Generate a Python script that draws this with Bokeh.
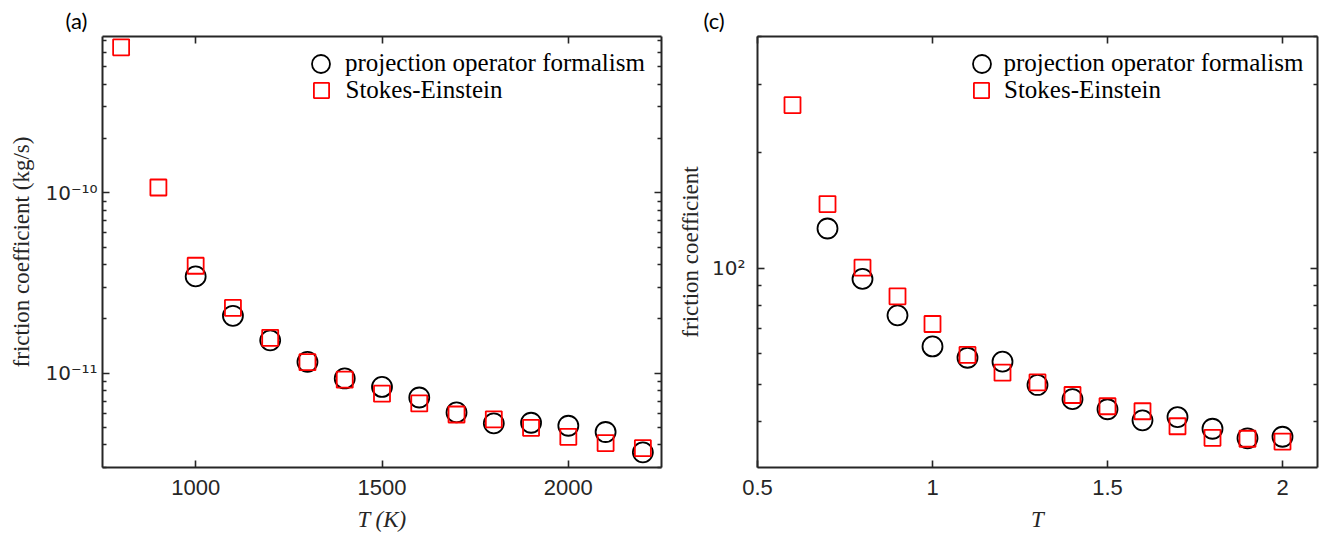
from bokeh.plotting import figure
from bokeh.models import (FixedTicker, LogAxis, LinearAxis, Legend, LegendItem,
                          ColumnDataSource, Range1d)
from bokeh.layouts import row
from bokeh.embed import file_html
from bokeh.resources import INLINE

# ---------------- data : panel (a) ----------------
T_a_se = [800, 900, 1000, 1100, 1200, 1300, 1400, 1500, 1600, 1700, 1800, 1900, 2000, 2100, 2200]
fric_a_se = [6.4e-10, 1.07e-10, 3.94e-11, 2.30e-11, 1.57e-11, 1.15e-11, 9.2e-12, 7.7e-12,
             6.8e-12, 5.9e-12, 5.55e-12, 4.98e-12, 4.44e-12, 4.10e-12, 3.84e-12]
T_a_pof = [1000, 1100, 1200, 1300, 1400, 1500, 1600, 1700, 1800, 1900, 2000, 2100, 2200]
fric_a_pof = [3.44e-11, 2.08e-11, 1.52e-11, 1.155e-11, 9.35e-12, 8.39e-12, 7.33e-12,
              6.06e-12, 5.27e-12, 5.31e-12, 5.11e-12, 4.72e-12, 3.64e-12]

# ---------------- data : panel (c) ----------------
T_c_se = [0.6, 0.7, 0.8, 0.9, 1.0, 1.1, 1.2, 1.3, 1.4, 1.5, 1.6, 1.7, 1.8, 1.9, 2.0]
fric_c_se = [265.5, 146.9, 100.4, 84.6, 71.7, 59.6, 53.6, 50.55, 46.9, 43.85, 42.55,
             38.9, 36.3, 36.1, 35.5]
T_c_pof = [0.7, 0.8, 0.9, 1.0, 1.1, 1.2, 1.3, 1.4, 1.5, 1.6, 1.7, 1.8, 1.9, 2.0]
fric_c_pof = [126.9, 93.9, 75.5, 62.7, 58.6, 57.25, 49.8, 45.75, 43.07, 40.3, 41.1,
              38.33, 36.2, 36.54]

# ---------------- ticks ----------------
xticks_a = [1000, 1500, 2000]
yticks_a = [1e-11, 1e-10]
ylabels_a = {1e-11: "10\u207b\u00b9\u00b9", 1e-10: "10\u207b\u00b9\u2070"}
yminor_a = [k * 10.0 ** e for e in (-12, -11, -10) for k in range(2, 10)]

xticks_c = [0.5, 1, 1.5, 2]
xlabels_c = {0.5: "0.5", 1: "1", 1.5: "1.5", 2: "2"}
yticks_c = [100]
ylabels_c = {100: "10\u00b2"}
yminor_c = [30, 40, 50, 60, 70, 80, 90, 200, 300, 400]

LEG1 = "projection operator formalism"
LEG2 = "Stokes-Einstein"

AX = "#262626"
TICK_FONT = "Liberation Sans"
SUP_FONT = "DejaVu Sans"
SERIF = "Liberation Serif"
FH = 431


def style_axis(ax, minor=False):
    ax.axis_line_color = AX
    ax.axis_line_width = 2
    ax.major_tick_line_color = AX
    ax.major_tick_line_width = 1.6
    ax.major_tick_in = 7
    ax.major_tick_out = 0
    if minor:
        ax.minor_tick_line_color = AX
        ax.minor_tick_line_width = 1.6
        ax.minor_tick_in = 4
        ax.minor_tick_out = 0
    else:
        ax.minor_tick_line_color = None
    ax.major_label_text_font = TICK_FONT
    ax.major_label_text_color = AX
    ax.major_label_text_font_size = "22px"
    ax.axis_label_text_font = SERIF
    ax.axis_label_text_font_size = "23px"
    ax.axis_label_text_color = AX
    ax.axis_label_text_font_style = "normal"


def make_panel(xr, yr, xt, xlab, yt, ylab, ymin, fw, mbl, mbr, xlabel, ylabel,
               Tp, fp, Ts, fs, leg, tag, tag_offset):
    p = figure(x_range=Range1d(*xr), y_range=Range1d(*yr), y_axis_type="log",
               frame_width=fw, frame_height=FH, min_border_left=mbl, min_border_right=mbr,
               min_border_top=36, min_border_bottom=66, toolbar_location=None,
               output_backend="svg", background_fill_color="white",
               border_fill_color="white")
    p.xgrid.visible = False
    p.ygrid.visible = False
    p.outline_line_color = None

    p.title.text = tag
    p.title.align = "left"
    p.title.offset = tag_offset
    p.title.standoff = 6
    p.title.text_font = "Lato"
    p.title.text_font_size = "22px"
    p.title.text_font_style = "normal"
    p.title.text_color = "black"

    bx = p.xaxis[0]
    bx.ticker = FixedTicker(ticks=xt)
    if xlab:
        bx.major_label_overrides = xlab
    bx.axis_label = xlabel
    style_axis(bx)
    bx.axis_label_text_font_style = "italic"
    bx.major_label_standoff = 12
    bx.axis_label_standoff = 9

    ly = p.yaxis[0]
    ly.ticker = FixedTicker(ticks=yt, minor_ticks=ymin)
    ly.major_label_overrides = ylab
    ly.axis_label = ylabel
    style_axis(ly, minor=True)
    ly.major_label_text_font = SUP_FONT
    ly.major_label_text_font_size = "20px"

    tx = LinearAxis(ticker=FixedTicker(ticks=xt))
    style_axis(tx)
    tx.major_label_overrides = {t: "" for t in xt}
    tx.major_label_text_font_size = "1px"
    tx.major_label_standoff = 0
    p.add_layout(tx, "above")
    ry = LogAxis(ticker=FixedTicker(ticks=yt, minor_ticks=ymin))
    style_axis(ry, minor=True)
    ry.major_label_overrides = {t: "" for t in yt}
    ry.major_label_text_font_size = "1px"
    ry.major_label_standoff = 0
    p.add_layout(ry, "right")

    src_p = ColumnDataSource(dict(T=Tp, f=fp))
    src_s = ColumnDataSource(dict(T=Ts, f=fs))
    rc = p.scatter("T", "f", source=src_p, marker="circle", size=20, fill_color=None,
                   line_color="black", line_width=1.8)
    rs = p.scatter("T", "f", source=src_s, marker="square", size=16, fill_color=None,
                   line_color="#ff0000", line_width=1.8)

    (cx, tx0) = leg
    l1 = Legend(items=[LegendItem(label=LEG1, renderers=[rc])],
                location=(cx - 22.5, FH - 4.5 - 45), glyph_width=45, glyph_height=45,
                label_standoff=int(round(tx0 - cx - 22.5)), padding=0, margin=0,
                border_line_color=None, background_fill_alpha=0,
                label_text_font=SERIF, label_text_font_size="25px",
                label_text_color="black")
    l2 = Legend(items=[LegendItem(label=LEG2, renderers=[rs])],
                location=(cx - 19, FH - 35 - 38), glyph_width=38, glyph_height=38,
                label_standoff=int(round(tx0 - cx - 19)), padding=0, margin=0,
                border_line_color=None, background_fill_alpha=0,
                label_text_font=SERIF, label_text_font_size="25px",
                label_text_color="black")
    p.add_layout(l1)
    p.add_layout(l2)
    return p


pa = make_panel((750, 2250), (3.0e-12, 7.35e-10), xticks_a, None, yticks_a, ylabels_a,
                yminor_a, 559, 102, 6, "T (K)", "friction coefficient (kg/s)",
                T_a_pof, fric_a_pof, T_a_se, fric_a_se, (218.5, 243.5), "(a)", -37)
pa.yaxis[0].major_label_standoff = 5
pa.yaxis[0].axis_label_standoff = 8

pc = make_panel((0.5, 2.1), (30.4, 400.0), xticks_c, xlabels_c, yticks_c, ylabels_c,
                yminor_c, 560, 90, 8, "T", "friction coefficient",
                T_c_pof, fric_c_pof, T_c_se, fric_c_se, (224, 246.6), "(c)", -54)
pc.yaxis[0].major_label_standoff = 12
pc.yaxis[0].axis_label_standoff = 6

layout = row(pa, pc)
open("out.html", "w").write(file_html(layout, INLINE))
